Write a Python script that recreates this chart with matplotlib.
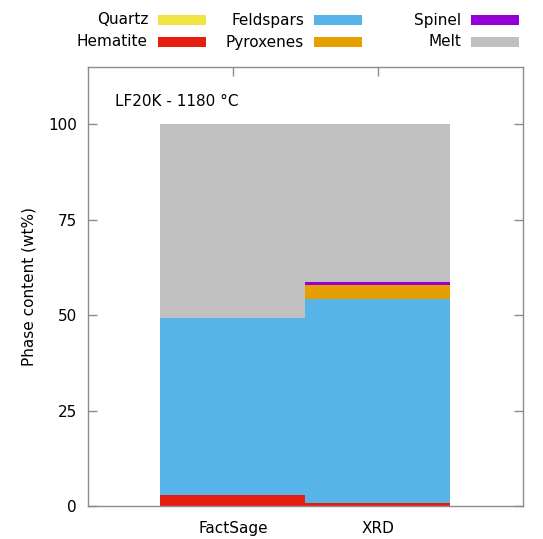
import numpy as np
import matplotlib
matplotlib.use("Agg")
import matplotlib.pyplot as plt
from matplotlib.patches import Rectangle

# ── Data (wt%) ───────────────────────────────────────────────────────────────
samples   = ["FactSage", "XRD"]
phases    = ["Quartz", "Hematite", "Feldspars", "Pyroxenes", "Spinel", "Melt"]
quartz    = [0.0, 0.0]
hematite  = [2.8, 0.7]
feldspars = [46.5, 53.5]
pyroxenes = [0.0, 3.7]
spinel    = [0.0, 0.8]
melt      = [50.7, 41.3]

COLORS = {
    "Quartz":    "#F0E442",
    "Hematite":  "#E51E10",
    "Feldspars": "#56B4E9",
    "Pyroxenes": "#E69F00",
    "Spinel":    "#9400D3",
    "Melt":      "#C0C0C0",
}
FRAME = "#8C8C8C"

plt.rcParams["font.family"] = ["DejaVu Sans"]

fig = plt.figure(figsize=(5.43, 5.39), dpi=100)
ax = fig.add_axes([0.162, 0.0612, 0.801, 0.8148])

x = np.arange(len(samples))
stack_order = [("Hematite", hematite), ("Quartz", quartz), ("Feldspars", feldspars),
               ("Pyroxenes", pyroxenes), ("Spinel", spinel), ("Melt", melt)]
bottom = np.zeros(len(samples))
for name, vals in stack_order:
    vals = np.array(vals)
    ax.bar(x, vals, width=1.0, bottom=bottom, color=COLORS[name], linewidth=0)
    bottom += vals

ax.set_xlim(-1, 2)
ax.set_ylim(0, 115)
ax.set_yticks([0, 25, 50, 75, 100])
ax.set_xticks(x)
ax.set_xticklabels(samples)
ax.set_ylabel("Phase content (wt%)", fontsize=11, labelpad=8)

for s in ax.spines.values():
    s.set_color(FRAME)
    s.set_linewidth(1.0)
ax.tick_params(axis="both", direction="in", length=6.5, width=1.0, color=FRAME,
               labelsize=11, top=True, right=True)
ax.tick_params(axis="y", pad=8)
# bottom x ticks are hidden behind the bars in the original
ax.tick_params(axis="x", pad=11, bottom=False)

ax.text(0.062, 0.92, "LF20K - 1180 °C", transform=ax.transAxes,
        fontsize=11, ha="left", va="center")

# ── Legend (two rows, three columns, label then swatch) ──────────────────────
W, H = 543.0, 539.0
legend_layout = [
    ("Quartz",    148, 20, 158),
    ("Hematite",  148, 42, 158),
    ("Feldspars", 304, 20, 314),
    ("Pyroxenes", 304, 42, 314),
    ("Spinel",    461, 20, 471),
    ("Melt",      461, 42, 471),
]
for name, tx, ty, px in legend_layout:
    fig.text(tx / W, 1 - ty / H, name, ha="right", va="center", fontsize=11)
    fig.patches.append(Rectangle((px / W, 1 - (ty + 5) / H), 48 / W, 10 / H,
                                 transform=fig.transFigure, color=COLORS[name],
                                 linewidth=0))

plt.savefig("out.png", dpi=100)
plt.close()
